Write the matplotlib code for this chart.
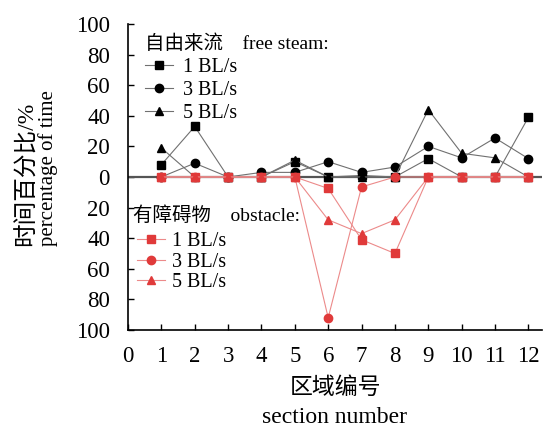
import matplotlib
matplotlib.use("Agg")
import matplotlib.pyplot as plt
import numpy as np

plt.rcParams['font.family'] = ['Liberation Serif', 'Noto Sans CJK SC']
plt.rcParams['axes.unicode_minus'] = False

sections = [1, 2, 3, 4, 5, 6, 7, 8, 9, 10, 11, 12]
free_1 = [8, 33, 0, 0, 10, 0, 1, 0, 12, 0, 0, 39]
free_3 = [0, 9, 0, 3, 3, 10, 3, 6.5, 20, 12.5, 25.5, 12]
free_5 = [19, 0, 0, 0, 11, 0, 0, 0, 44, 15.5, 12.5, 0]
obst_1 = [0, 0, 0, 0, 0, -7.5, -41, -50, 0, 0, 0, 0]
obst_3 = [0, 0, 0, 0, 0, -92, -6.5, 0, 0, 0, 0, 0]
obst_5 = [0, 0, 0, 0, 0, -28, -37, -28, 0, 0, 0, 0]
speed_labels = ['1 BL/s', '3 BL/s', '5 BL/s']
markers = ['s', 'o', '^']

W, H = 543, 428
fig = plt.figure(figsize=(W / 100, H / 100), dpi=100)
ax = fig.add_axes([0.2357, 0.229, 0.762, 0.715])

black_lines = []
for vals, m, lab in zip([free_1, free_3, free_5], markers, speed_labels):
  ln, = ax.plot(sections, vals, color='#707070', linewidth=0.8, marker=m,
    markerfacecolor='black', markeredgecolor='black', markersize=6, label=lab, zorder=3)
  black_lines.append(ln)

ax.axhline(0, color='#555555', linewidth=1.6, zorder=2)

red_lines = []
for vals, m, lab in zip([obst_1, obst_3, obst_5], markers, speed_labels):
  ln, = ax.plot(sections, vals, color='#ec8a8a', linewidth=0.8, marker=m,
    markerfacecolor='#e03a3a', markeredgecolor='#e03a3a', markersize=6, label=lab, zorder=4)
  red_lines.append(ln)

ax.set_xlim(0, 12.4)
ax.set_ylim(-100, 100)
ax.set_xticks(range(0, 13))
yt = np.arange(-100, 101, 20)
ax.set_yticks(yt)
ax.set_yticklabels([str(abs(v)) for v in yt])
ax.tick_params(direction='in', length=4, width=1, labelsize=16.5)
ax.tick_params(axis='x', pad=11.5)
ax.tick_params(axis='y', pad=13)
ax.spines['top'].set_visible(False)
ax.spines['right'].set_visible(False)
for s in ['left', 'bottom']:
  ax.spines[s].set_linewidth(1.2)

# axis titles, Chinese line over English line
fig.text(335 / W, 1 - 388 / H, '区域编号', fontsize=16.5, ha='center', va='center')
fig.text(335 / W, 1 - 423 / H, 'section number', fontsize=17, ha='center', va='baseline')
fig.text(27 / W, 1 - 174 / H, '时间百分比/%', fontsize=17, rotation=90, ha='center', va='center')
fig.text(48 / W, 1 - 168 / H, 'percentage of time', fontsize=15, rotation=90, ha='center', va='center')

# legend headers
fig.text(145 / W, 1 - 44 / H, '自由来流    free steam:', fontsize=14, ha='left', va='center')
fig.text(133 / W, 1 - 216 / H, '有障碍物    obstacle:', fontsize=14, ha='left', va='center')

leg1 = ax.legend(handles=black_lines, loc='center left',
  bbox_to_anchor=(0.042, 0.783), frameon=False, fontsize=14.5,
  handlelength=1.35, handletextpad=0.5, labelspacing=0.2,
  borderpad=0, borderaxespad=0)
ax.add_artist(leg1)
ax.legend(handles=red_lines, loc='center left',
  bbox_to_anchor=(0.022, 0.222), frameon=False, fontsize=14.5,
  handlelength=1.4, handletextpad=0.35, labelspacing=0.05,
  borderpad=0, borderaxespad=0)

fig.savefig('out.png', dpi=100)
